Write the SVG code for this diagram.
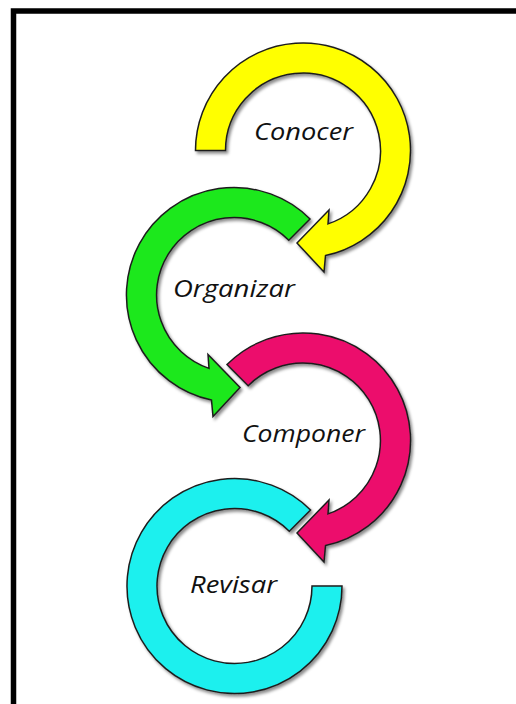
<svg xmlns="http://www.w3.org/2000/svg" width="516" height="704" viewBox="0 0 516 704">
  <defs>
    <filter id="shadow" x="-10%" y="-10%" width="130%" height="130%">
      <feDropShadow dx="2" dy="2.5" stdDeviation="1.6" flood-color="#000" flood-opacity="0.45"/>
    </filter>
  </defs>
  <style>
    .arrow { stroke: #1e1e1e; stroke-width: 1.5; stroke-linejoin: miter; filter: url(#shadow); }
    .label { font-family: "Open Sans", "Liberation Sans", sans-serif; font-style: italic; font-size: 24px; fill: #111; text-anchor: middle; }
  </style>
  <rect width="516" height="704" fill="#ffffff"/>
  <rect id="frame" x="13.5" y="11" width="530" height="720" fill="none" stroke="#000" stroke-width="5.5"/>

  <g id="connectors">
    <path id="arrow-conocer" class="arrow" fill="#FFFF00" d="M195.5,150.5 A107.5,107.5 0 1 1 325.5,255.6 L324,272 L297,243 L329,210 L328,223.9 A77.5,77.5 0 1 0 225.5,150.5 Z"/>
    <path id="arrow-organizar" class="arrow" fill="#1EE81E" d="M310,219 A107.5,107.5 0 1 0 211.5,400.1 L213,416.5 L240,387.5 L208,354.5 L209,368.4 A77.5,77.5 0 1 1 288.8,240.2 Z"/>
    <path id="arrow-componer" class="arrow" fill="#EC0F6C" d="M227,364.5 A107.5,107.5 0 1 1 325.5,545.6 L324,562 L297,533 L329,500 L328,513.9 A77.5,77.5 0 1 0 248.2,385.7 Z"/>
    <path id="arrow-revisar" class="arrow" fill="#1EF0EE" d="M342,586 A107.5,107.5 0 1 1 310.5,510 L289.3,531.2 A77.5,77.5 0 1 0 312,586 Z"/>
  </g>

  <g id="conocer">
    <text class="label" x="303.5" y="140" textLength="99" lengthAdjust="spacingAndGlyphs">Conocer</text>
  </g>
  <g id="organizar">
    <text class="label" x="234" y="297" textLength="122" lengthAdjust="spacingAndGlyphs">Organizar</text>
  </g>
  <g id="componer">
    <text class="label" x="303.5" y="441.5" textLength="123" lengthAdjust="spacingAndGlyphs">Componer</text>
  </g>
  <g id="revisar">
    <text class="label" x="233.5" y="593" textLength="87" lengthAdjust="spacingAndGlyphs">Revisar</text>
  </g>
</svg>
